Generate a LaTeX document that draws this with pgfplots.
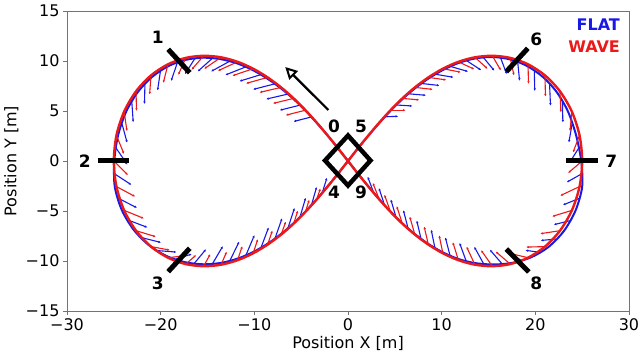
\documentclass[border=0pt]{standalone}
\usepackage{fontspec}
\setmainfont{DejaVu Sans}
\usepackage{pgfplots}
\usepackage{pgfplotstable}
\pgfplotsset{compat=1.18}
\usetikzlibrary{arrows.meta}
\definecolor{flat}{RGB}{25,25,230}
\definecolor{wave}{RGB}{235,25,25}
\pgfplotstableread{
x y u v
-3.91 4.40 -1.9 -0.45
-5.13 5.58 -2.15 -0.5
-6.43 6.69 -2.3 -0.5
-7.83 7.71 -2.3 -0.55
-9.33 8.63 -2.25 -0.65
-10.94 9.40 -2.15 -0.8
-12.66 9.96 -1.95 -1.0
-14.49 10.26 -1.55 -1.3
-16.36 10.23 -1.05 -1.55
-18.23 9.81 -0.65 -1.8
-20.03 8.96 -0.3 -1.9
-21.68 7.65 -0.05 -1.95
-23.08 5.89 0.15 -2.0
-24.13 3.73 0.55 -1.9
-24.75 1.28 1.2 -1.65
-24.93 -1.28 1.8 -1.1
-24.53 -3.73 2.0 -0.95
-23.52 -5.89 2.1 -0.75
-22.07 -7.65 2.1 -0.5
-20.32 -8.96 2.0 -0.15
-18.39 -9.81 1.7 0.5
-16.41 -10.23 1.25 1.4
-14.46 -10.26 1.1 1.75
-12.61 -9.96 1.0 1.9
-10.89 -9.41 0.9 2.0
-9.28 -8.65 0.8 2.0
-7.79 -7.73 0.75 2.0
-6.41 -6.70 0.7 2.0
-5.12 -5.58 0.6 1.9
-3.90 -4.40 0.55 1.8
-2.75 -3.18 0.5 1.5
3.95 4.42 1.4 0.05
5.17 5.60 1.7 -0.1
6.47 6.72 1.85 -0.15
7.86 7.75 1.9 -0.2
9.36 8.67 1.9 -0.3
10.96 9.45 1.85 -0.5
12.67 10.03 1.55 -0.95
14.47 10.33 1.15 -1.3
16.30 10.29 0.65 -1.6
18.12 9.87 0.2 -1.85
19.89 9.00 0.05 -2.0
21.52 7.68 0.1 -2.15
22.89 5.91 0.05 -2.05
23.93 3.75 -0.35 -1.9
24.63 1.29 -1.0 -1.5
24.95 -1.28 -1.6 -0.85
24.65 -3.75 -1.7 -0.65
23.68 -5.97 -1.7 -0.4
22.23 -7.80 -1.65 -0.15
20.45 -9.13 -1.5 0.2
18.48 -9.93 -1.4 0.8
16.45 -10.28 -1.3 1.4
14.48 -10.28 -1.0 1.7
12.61 -9.99 -0.7 1.8
10.89 -9.44 -0.5 1.8
9.28 -8.68 -0.4 1.8
7.79 -7.76 -0.45 1.8
6.41 -6.72 -0.5 1.8
5.12 -5.60 -0.55 1.75
3.90 -4.41 -0.6 1.7
2.75 -3.18 -0.65 1.6
}\flatvec
\pgfplotstableread{
x y u v
-4.54 5.08 -2.1 -0.5
-5.80 6.26 -2.2 -0.5
-7.14 7.36 -2.3 -0.5
-8.58 8.36 -2.3 -0.6
-10.13 9.23 -2.2 -0.7
-11.79 9.92 -2.1 -0.9
-13.55 10.37 -1.8 -1.15
-15.41 10.52 -1.3 -1.4
-17.32 10.31 -0.8 -1.7
-19.22 9.67 -0.5 -1.85
-21.03 8.56 -0.15 -1.9
-22.63 6.97 0.05 -1.95
-23.90 4.94 0.3 -1.95
-24.72 2.56 0.8 -1.85
-25.00 0.00 1.5 -1.4
-24.72 -2.56 2.0 -1.0
-23.90 -4.94 2.1 -0.8
-22.63 -6.97 2.1 -0.6
-21.03 -8.56 2.0 -0.35
-19.22 -9.67 1.8 0.2
-17.32 -10.31 1.1 0.9
-15.41 -10.52 0.7 1.2
-13.55 -10.37 0.6 1.3
-11.79 -9.92 0.5 1.4
-10.13 -9.23 0.5 1.4
-8.58 -8.36 0.5 1.4
-7.14 -7.36 0.5 1.3
-5.80 -6.26 0.45 1.3
-4.54 -5.08 0.4 1.2
-3.35 -3.85 0.4 1.1
4.54 5.08 1.6 0
5.80 6.26 1.8 -0.15
7.14 7.36 1.9 -0.2
8.58 8.36 1.9 -0.25
10.13 9.23 1.9 -0.35
11.79 9.92 1.7 -0.75
13.55 10.37 1.35 -1.15
15.41 10.52 0.9 -1.45
17.32 10.31 0.4 -1.75
19.22 9.67 0.05 -1.95
21.03 8.56 0.05 -2.1
22.63 6.97 0.1 -2.1
23.90 4.94 -0.2 -1.95
24.72 2.56 -0.7 -1.7
25.00 0.00 -1.5 -1.2
24.72 -2.56 -2.05 -0.9
23.90 -4.94 -2.1 -0.6
22.63 -6.97 -2.1 -0.3
21.03 -8.56 -2.0 -0.05
19.22 -9.67 -1.8 0.4
17.32 -10.31 -1.55 1.25
15.41 -10.52 -1.2 1.6
13.55 -10.37 -0.9 1.8
11.79 -9.92 -0.6 1.8
10.13 -9.23 -0.4 1.8
8.58 -8.36 -0.45 1.8
7.14 -7.36 -0.55 1.8
5.80 -6.26 -0.6 1.75
4.54 -5.08 -0.65 1.7
3.35 -3.85 -0.7 1.65
}\wavevec
\begin{document}
\begin{tikzpicture}
\begin{axis}[name=ax, scale only axis, width=562pt, height=300pt,
  xmin=-30, xmax=30, ymin=-15, ymax=15,
  xtick={-30,-20,...,30}, xticklabels={−30,−20,−10,0,10,20,30},
  ytick={-15,-10,...,15}, yticklabels={−15,−10,−5,0,5,10,15},
  tick align=outside, tick pos=left, major tick length=4pt,
  axis line style={black!55, line width=0.8pt},
  every tick/.style={black!55, line width=0.8pt},
  tick label style={font=\fontsize{16}{19}\selectfont},
  xlabel={Position X [m]}, ylabel={Position Y [m]},
  every axis x label/.style={at={(axis description cs:0.5,-0.125)}, anchor=base, font=\fontsize{16}{19}\selectfont},
  every axis y label/.style={at={(axis description cs:-0.090,0.5)}, anchor=base, rotate=90, font=\fontsize{16}{19}\selectfont},
  clip=false]
% FLAT curve
\addplot[flat, line width=2pt, smooth] coordinates {
(0,0) (-1.09,1.30) (-2.18,2.56) (-3.32,3.80) (-4.50,5.00) (-5.76,6.15) (-7.10,7.22) (-8.55,8.20) (-10.10,9.06) (-11.77,9.74) (-13.55,10.18) (-15.42,10.33) (-17.30,10.12) (-19.15,9.50) (-20.90,8.42) (-22.45,6.88) (-23.70,4.90) (-24.55,2.56) (-24.95,0)
(-24.90,-2.56) (-24.15,-4.90) (-22.88,-6.88) (-21.25,-8.42) (-19.38,-9.50) (-17.40,-10.12) (-15.41,-10.33) (-13.50,-10.18) (-11.72,-9.74) (-10.05,-9.07) (-8.50,-8.22) (-7.07,-7.24) (-5.74,-6.16) (-4.49,-5.00) (-3.31,-3.80) (-2.18,-2.55) (-1.09,-1.30) (0,0)
(1.09,1.30) (2.20,2.56) (3.35,3.81) (4.54,5.02) (5.80,6.18) (7.14,7.26) (8.58,8.24) (10.13,9.10) (11.79,9.80) (13.55,10.25) (15.38,10.40) (17.22,10.18) (19.02,9.55) (20.75,8.45) (22.28,6.90) (23.50,4.92) (24.35,2.58) (24.9,0)
(25.0,-2.56) (24.3,-4.94) (23.05,-7.0) (21.4,-8.6) (19.5,-9.65) (17.45,-10.2) (15.45,-10.35) (13.5,-10.2) (11.72,-9.78) (10.05,-9.1) (8.5,-8.25) (7.07,-7.26) (5.74,-6.18) (4.49,-5.01) (3.31,-3.80) (2.18,-2.55) (1.09,-1.30) (0,0) (-1.09,1.30)
};
\addplot[flat, line width=1.1pt, quiver={u=\thisrow{u}, v=\thisrow{v}}, -{Latex[length=2.5pt,width=2.5pt]}] table[x=x,y=y] {\flatvec};
% WAVE curve
\addplot[wave, line width=2.4pt, smooth] coordinates {
(0,0) (-1.09,1.30) (-2.20,2.58) (-3.35,3.85) (-4.54,5.08) (-5.80,6.26) (-7.14,7.36) (-8.58,8.36) (-10.13,9.23) (-11.79,9.92) (-13.55,10.37) (-15.41,10.52) (-17.32,10.31) (-19.22,9.67) (-21.03,8.56) (-22.63,6.97) (-23.90,4.94) (-24.72,2.56) (-25,0)
(-24.72,-2.56) (-23.90,-4.94) (-22.63,-6.97) (-21.03,-8.56) (-19.22,-9.67) (-17.32,-10.31) (-15.41,-10.52) (-13.55,-10.37) (-11.79,-9.92) (-10.13,-9.23) (-8.58,-8.36) (-7.14,-7.36) (-5.80,-6.26) (-4.54,-5.08) (-3.35,-3.85) (-2.20,-2.58) (-1.09,-1.30) (0,0)
(1.09,1.30) (2.20,2.58) (3.35,3.85) (4.54,5.08) (5.80,6.26) (7.14,7.36) (8.58,8.36) (10.13,9.23) (11.79,9.92) (13.55,10.37) (15.41,10.52) (17.32,10.31) (19.22,9.67) (21.03,8.56) (22.63,6.97) (23.90,4.94) (24.72,2.56) (25,0)
(24.72,-2.56) (23.90,-4.94) (22.63,-6.97) (21.03,-8.56) (19.22,-9.67) (17.32,-10.31) (15.41,-10.52) (13.55,-10.37) (11.79,-9.92) (10.13,-9.23) (8.58,-8.36) (7.14,-7.36) (5.80,-6.26) (4.54,-5.08) (3.35,-3.85) (2.20,-2.58) (1.09,-1.30) (0,0) (-1.09,1.30)
};
\addplot[wave, line width=1.1pt, quiver={u=\thisrow{u}, v=\thisrow{v}}, -{Latex[length=2.5pt,width=2.5pt]}] table[x=x,y=y] {\wavevec};
% black markers
\addplot[black, line width=5pt] coordinates {(-19.2,11.17) (-16.9,8.83)};
\addplot[black, line width=5pt] coordinates {(-26.7,0) (-23.4,0)};
\addplot[black, line width=5pt] coordinates {(-19.2,-11.07) (-16.9,-8.73)};
\addplot[black, line width=5pt] coordinates {(16.9,8.93) (19.2,11.27)};
\addplot[black, line width=5pt] coordinates {(23.3,0) (26.7,0)};
\addplot[black, line width=5pt] coordinates {(16.9,-8.8) (19.3,-11.1)};
\addplot[black, line width=4.5pt, line join=miter] coordinates {(0,2.55) (2.4,0.05) (0,-2.45) (-2.45,0.05) (0,2.55) (2.4,0.05)};
\addplot[black, line width=2.2pt, -{Triangle[open, length=12pt, width=12pt, line width=2pt]}] coordinates {(-2.1,5.1) (-6.7,9.4)};
% labels
\begin{scope}[every node/.style={font=\bfseries\fontsize{17}{20}\selectfont}]
\node at (axis cs:-20.3,12.4) {1};
\node at (axis cs:-28.1,0) {2};
\node at (axis cs:-20.3,-12.2) {3};
\node at (axis cs:-1.5,3.5) {0};
\node at (axis cs:1.4,3.5) {5};
\node at (axis cs:-1.5,-3.1) {4};
\node at (axis cs:1.4,-3.1) {9};
\node at (axis cs:20.1,12.2) {6};
\node at (axis cs:28.1,0) {7};
\node at (axis cs:20.1,-12.2) {8};
\end{scope}
\node[anchor=east, text=flat, font=\bfseries\fontsize{16}{19}\selectfont] at (axis cs:29.4,13.6) {FLAT};
\node[anchor=east, text=wave, font=\bfseries\fontsize{16}{19}\selectfont] at (axis cs:29.4,11.4) {WAVE};
\end{axis}
\pgfresetboundingbox
\path ([shift={(-67pt,-42pt)}]ax.south west) rectangle ([shift={(11pt,11pt)}]ax.north east);
\end{tikzpicture}
\end{document}
